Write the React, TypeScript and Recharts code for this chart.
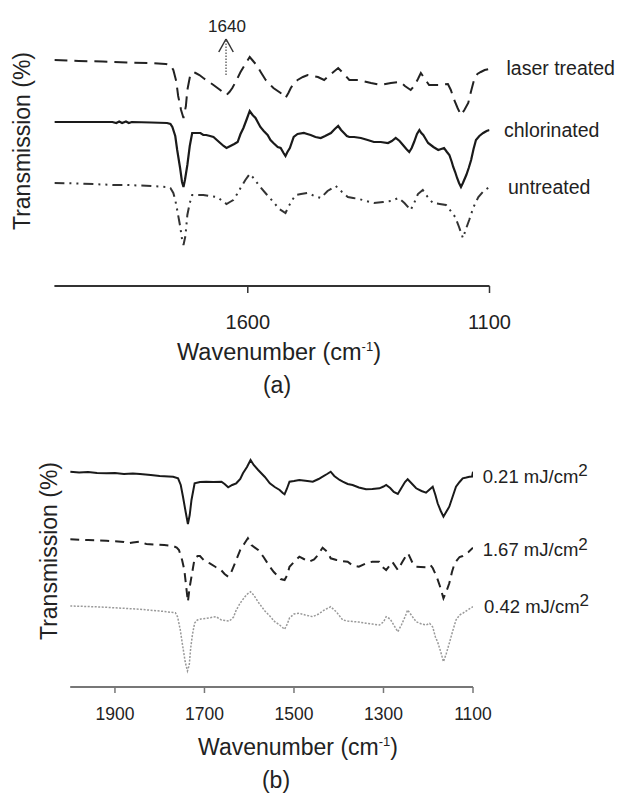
import React from 'react';
import { LineChart, Line, XAxis, YAxis, ReferenceLine } from 'recharts';

const FONT = '"Liberation Sans", Arial, Helvetica, sans-serif';

// ---------- Panel (a): [wavenumber cm-1, relative transmission] ----------
const laserTreated: [number, number][] = [
  [2000, 226], [1950, 225], [1900, 224.5], [1850, 223.5], [1800, 223], [1770, 222], [1760, 221],
  [1754, 216], [1748, 205], [1744, 190], [1738, 176], [1733, 168], [1728, 180], [1725, 196],
  [1719, 211], [1712, 214], [1708, 213], [1700, 211], [1692, 208], [1680, 204], [1671, 201],
  [1657, 196], [1644, 191], [1638, 194], [1632, 198], [1622, 207], [1615, 214], [1605, 222],
  [1596, 229], [1589, 225], [1582, 221], [1572, 213], [1563, 206], [1547, 198], [1532, 193],
  [1522, 188], [1516, 193], [1511, 198], [1504, 203], [1497, 206], [1486, 209], [1476, 211],
  [1465, 210], [1455, 209], [1442, 206], [1428, 212], [1413, 218], [1407, 215], [1401, 212],
  [1390, 206], [1370, 206], [1345, 203], [1325, 201], [1304, 203], [1284, 204], [1275, 200],
  [1263, 196], [1256, 200], [1248, 207], [1242, 213], [1235, 208], [1225, 201], [1206, 201],
  [1186, 202], [1180, 196], [1173, 186], [1166, 178], [1159, 171], [1152, 176], [1144, 183],
  [1138, 195], [1132, 206], [1125, 212], [1118, 214], [1110, 216], [1100, 217],
];

const chlorinated: [number, number][] = [
  [2000, 164], [1950, 164], [1900, 164], [1880, 164], [1872, 163], [1866, 164.5], [1860, 163],
  [1852, 164.5], [1846, 163], [1840, 164], [1800, 163.5], [1767, 163], [1760, 162], [1756, 159],
  [1750, 150], [1746, 136], [1740, 118], [1736, 104], [1733, 99], [1730, 106], [1725, 121],
  [1720, 140], [1715, 153], [1708, 153], [1698, 153], [1692, 151], [1686, 151], [1678, 150],
  [1671, 149], [1664, 146], [1657, 143], [1650, 140], [1644, 138], [1636, 140], [1628, 142],
  [1621, 144], [1615, 152], [1609, 158], [1602, 167], [1596, 175], [1590, 171], [1584, 168],
  [1574, 159], [1567, 155], [1559, 151], [1553, 146], [1547, 143], [1538, 139], [1532, 138],
  [1526, 133], [1522, 130], [1518, 134], [1513, 138], [1505, 149], [1497, 152], [1484, 153],
  [1477, 152], [1470, 151], [1460, 149], [1449, 148], [1440, 150], [1428, 153], [1420, 157],
  [1413, 160], [1407, 156], [1401, 153], [1395, 150], [1390, 149], [1380, 149], [1366, 148],
  [1352, 146], [1339, 144], [1325, 144], [1310, 143], [1302, 145], [1294, 148], [1286, 145],
  [1279, 141], [1272, 137], [1266, 134], [1261, 138], [1256, 144], [1250, 152], [1245, 156],
  [1241, 153], [1237, 151], [1232, 147], [1227, 143], [1216, 139], [1206, 136], [1200, 137],
  [1194, 138], [1188, 134], [1183, 131], [1178, 124], [1175, 119], [1171, 114], [1167, 108],
  [1163, 103], [1159, 99], [1155, 103], [1148, 111], [1143, 118], [1138, 126], [1133, 137],
  [1128, 146], [1121, 150], [1113, 153], [1106, 155], [1100, 156],
];

const untreated: [number, number][] = [
  [2000, 103], [1950, 102.5], [1900, 101.5], [1878, 101], [1850, 101], [1800, 100], [1767, 99],
  [1760, 98], [1754, 93], [1750, 86], [1746, 76], [1740, 60], [1736, 47], [1733, 41], [1729, 50],
  [1725, 71], [1720, 83], [1715, 91], [1705, 91], [1692, 91], [1680, 90], [1663, 89], [1655, 86],
  [1644, 82], [1637, 84], [1630, 86], [1622, 92], [1615, 98], [1605, 106], [1596, 112],
  [1590, 109], [1582, 104], [1574, 99], [1560, 91], [1547, 84], [1535, 77], [1522, 73],
  [1515, 80], [1508, 86], [1501, 91], [1490, 92], [1476, 93], [1462, 90], [1449, 88], [1435, 95],
  [1418, 100], [1405, 94], [1393, 89], [1382, 88], [1370, 87], [1355, 85], [1339, 83], [1320, 84],
  [1304, 85], [1288, 88], [1276, 83], [1263, 76], [1255, 84], [1248, 92], [1238, 96], [1228, 89],
  [1217, 83], [1203, 82], [1190, 81], [1180, 75], [1171, 69], [1163, 59], [1155, 48], [1148, 58],
  [1142, 66], [1133, 79], [1123, 89], [1112, 95], [1100, 99],
];

// ---------- Panel (b): [wavenumber cm-1, relative transmission] ----------
const fluence021: [number, number][] = [
  [2000, 215.3], [1980, 214.5], [1960, 215], [1940, 214], [1919, 213.7], [1900, 214], [1880, 213],
  [1860, 213.5], [1844, 213], [1820, 212], [1800, 211], [1780, 210.5], [1770, 210.3], [1759, 208.7],
  [1753, 202], [1748, 190.3], [1742, 175], [1737, 163], [1733, 172], [1729, 187], [1722, 203.7],
  [1710, 205], [1696, 205.3], [1680, 205], [1662, 205.3], [1655, 203], [1647, 199.7], [1638, 202],
  [1629, 203.7], [1620, 208], [1614, 213.7], [1605, 220], [1597, 227], [1590, 222], [1580, 217],
  [1565, 210], [1554, 203.7], [1543, 200], [1532, 197], [1525, 194], [1521, 192.7], [1516, 198],
  [1510, 205.3], [1500, 206], [1488, 207], [1470, 206], [1458, 205.3], [1445, 208], [1436, 210.3],
  [1426, 213], [1418, 215.3], [1410, 211], [1398, 207], [1391, 205.3], [1380, 203], [1369, 202],
  [1355, 199.5], [1339, 197.7], [1325, 198], [1309, 198.7], [1300, 200.5], [1294, 202],
  [1285, 199], [1277, 195], [1268, 193], [1260, 199], [1252, 205], [1246, 207.7], [1238, 204],
  [1227, 198.7], [1215, 196], [1205, 194.3], [1197, 197.5], [1190, 200.3], [1184, 192],
  [1179, 183.7], [1172, 176], [1166, 170.3], [1160, 175], [1153, 180.3], [1145, 191],
  [1138, 200.3], [1130, 205], [1123, 208.7], [1115, 209.5], [1108, 210.3], [1102, 210.5], [1100, 215.3],
];

const fluence167: [number, number][] = [
  [2000, 147.7], [1960, 147], [1919, 146.3], [1880, 145], [1870, 143.7], [1860, 144.5], [1844, 145.3],
  [1830, 143], [1810, 142.5], [1790, 142], [1770, 141], [1762, 139.5], [1757, 137], [1750, 127],
  [1745, 117], [1741, 101], [1737, 85.3], [1733, 100], [1729, 110.3], [1722, 128.7], [1715, 131],
  [1710, 131], [1700, 126], [1688, 123.7], [1675, 120], [1663, 117], [1655, 113], [1647, 110.3],
  [1640, 115], [1629, 127], [1620, 137], [1610, 144], [1603, 148.7], [1595, 142], [1580, 137],
  [1568, 130], [1554, 120.3], [1545, 115], [1530, 108], [1521, 107], [1515, 112], [1510, 120.3],
  [1500, 125], [1488, 130.3], [1478, 128], [1466, 125.3], [1455, 127.5], [1450, 130], [1436, 139.3],
  [1425, 135], [1418, 128.7], [1405, 127], [1394, 126], [1380, 125.3], [1369, 121.5], [1355, 120.3],
  [1339, 123.7], [1325, 125.3], [1310, 125.3], [1302, 120], [1294, 117], [1280, 125], [1268, 117],
  [1258, 125], [1250, 131], [1245, 133.7], [1235, 124], [1227, 120.3], [1217, 120], [1205, 119.7],
  [1195, 122], [1190, 119], [1181, 110], [1174, 101], [1166, 88.7], [1160, 95], [1153, 103.7],
  [1147, 115], [1141, 123.7], [1130, 130], [1123, 131], [1110, 135], [1100, 139.3],
];

const fluence042: [number, number][] = [
  [2000, 81], [1960, 80.5], [1919, 79.7], [1880, 78.7], [1844, 77.7], [1800, 76], [1770, 74.5],
  [1765, 74.3], [1760, 70], [1754, 57], [1749, 42], [1743, 25], [1738, 16], [1734, 22], [1731, 38],
  [1727, 52], [1722, 64], [1716, 67], [1708, 68], [1696, 68.7], [1685, 69.5], [1674, 70.3],
  [1662, 67], [1654, 66.5], [1644, 66], [1635, 70], [1629, 77], [1620, 84], [1610, 90], [1604, 93],
  [1597, 95.3], [1590, 92], [1580, 85], [1565, 76], [1554, 71], [1543, 65.3], [1532, 62],
  [1521, 57.7], [1515, 63], [1510, 69], [1500, 73], [1488, 73.7], [1475, 72], [1458, 70.3],
  [1445, 73], [1432, 77], [1418, 80.3], [1405, 75], [1391, 67], [1380, 66], [1369, 65.5],
  [1355, 65], [1339, 63.7], [1325, 63], [1309, 62], [1300, 65], [1294, 70.3], [1285, 68],
  [1277, 62], [1268, 55.3], [1260, 62], [1252, 70], [1246, 77], [1238, 72], [1227, 65.3],
  [1215, 63], [1205, 62], [1197, 63.7], [1190, 60], [1184, 50], [1179, 45], [1172, 35],
  [1166, 25.3], [1160, 33], [1153, 43.7], [1146, 55], [1138, 67], [1130, 72], [1123, 73.7],
  [1112, 77], [1100, 80.3],
];

const ticksA = [1600, 1100];
const ticksB = [1900, 1700, 1500, 1300, 1100];
const domainX: [number, number] = [1100, 2000];
const domainY: [number, number] = [0, 250];

const annotationWn = 1645;

const toPts = (arr: [number, number][]) => arr.map(([w, t]) => ({ w, t }));

const INK = '#222';

export default function App() {
  return (
    <div style={{ position: 'absolute', left: 0, top: 0, width: 618, height: 794, background: '#fff' }}>
      <div style={{ position: 'absolute', left: 0, top: 0 }}>
        <LineChart width={618} height={400} margin={{ top: 36, right: 128.5, left: 54.4, bottom: 0 }}>
          <XAxis
            type="number"
            dataKey="w"
            domain={domainX}
            reversed
            ticks={ticksA}
            interval={0}
            allowDataOverflow
            height={114}
            tickSize={7}
            tickMargin={22}
            axisLine={{ stroke: '#333', strokeWidth: 2 }}
            tickLine={{ stroke: '#333', strokeWidth: 1.5 }}
            tick={{ fontSize: 20, fill: INK, fontFamily: FONT }}
          />
          <YAxis hide type="number" domain={domainY} allowDataOverflow />
          <Line data={toPts(laserTreated)} dataKey="t" type="linear" stroke="#222" strokeWidth={2}
            strokeDasharray="13 7" dot={false} activeDot={false} isAnimationActive={false} />
          <Line data={toPts(chlorinated)} dataKey="t" type="linear" stroke="#1a1a1a" strokeWidth={2.2}
            dot={false} activeDot={false} isAnimationActive={false} />
          <Line data={toPts(untreated)} dataKey="t" type="linear" stroke="#333" strokeWidth={2}
            strokeDasharray="10 5 2 5 2 5" dot={false} activeDot={false} isAnimationActive={false} />
          <ReferenceLine segment={[{ x: annotationWn, y: 211 }, { x: annotationWn, y: 245 }]}
            stroke="#444" strokeWidth={1.2} strokeDasharray="1.5 1.5" ifOverflow="visible" />
          <ReferenceLine segment={[{ x: annotationWn, y: 247 }, { x: annotationWn + 15, y: 234 }]}
            stroke="#333" strokeWidth={1.5} ifOverflow="visible" />
          <ReferenceLine segment={[{ x: annotationWn, y: 247 }, { x: annotationWn - 15, y: 234 }]}
            stroke="#333" strokeWidth={1.5} ifOverflow="visible" />
        </LineChart>
      </div>
      <div style={{ position: 'absolute', left: 0, top: 400 }}>
        <LineChart width={618} height={394} margin={{ top: 37, right: 145, left: 70.2, bottom: 0 }}>
          <XAxis
            type="number"
            dataKey="w"
            domain={domainX}
            reversed
            ticks={ticksB}
            interval={0}
            allowDataOverflow
            height={107}
            tickSize={6}
            tickMargin={15}
            axisLine={{ stroke: '#777', strokeWidth: 2 }}
            tickLine={{ stroke: '#777', strokeWidth: 1.5 }}
            tick={{ fontSize: 17.5, fill: INK, fontFamily: FONT }}
          />
          <YAxis hide type="number" domain={domainY} allowDataOverflow />
          <Line data={toPts(fluence021)} dataKey="t" type="linear" stroke="#1a1a1a" strokeWidth={2}
            dot={false} activeDot={false} isAnimationActive={false} />
          <Line data={toPts(fluence167)} dataKey="t" type="linear" stroke="#222" strokeWidth={2}
            strokeDasharray="9 6" dot={false} activeDot={false} isAnimationActive={false} />
          <Line data={toPts(fluence042)} dataKey="t" type="linear" stroke="#999" strokeWidth={1.5}
            strokeDasharray="2 1.5" dot={false} activeDot={false} isAnimationActive={false} />
        </LineChart>
      </div>
      <svg width={618} height={794} style={{ position: 'absolute', left: 0, top: 0, pointerEvents: 'none' }}
        fontFamily={FONT} fill={INK}>
        {/* panel (a) */}
        <text transform="translate(30,141) rotate(-90)" textAnchor="middle" fontSize={23}>Transmission (%)</text>
        <text x={227} y={31.5} textAnchor="middle" fontSize={17}>1640</text>
        <text x={506.5} y={75} fontSize={19.5}>laser treated</text>
        <text x={504} y={137} fontSize={19.5}>chlorinated</text>
        <text x={508} y={194} fontSize={19.5}>untreated</text>
        <text x={279} y={360} textAnchor="middle" fontSize={23.5}>
          Wavenumber (cm<tspan fontSize={13} dy={-9}>-1</tspan><tspan dy={9}>)</tspan>
        </text>
        <text x={277} y={393} textAnchor="middle" fontSize={23}>(a)</text>
        {/* panel (b) */}
        <text transform="translate(57,551) rotate(-90)" textAnchor="middle" fontSize={23}>Transmission (%)</text>
        <text x={482.7} y={482.7} fontSize={18.5}>0.21 mJ/cm<tspan fontSize={17} dy={-6.5}>2</tspan></text>
        <text x={482.7} y={556} fontSize={18.5}>1.67 mJ/cm<tspan fontSize={17} dy={-6.5}>2</tspan></text>
        <text x={484} y={612.7} fontSize={18.5}>0.42 mJ/cm<tspan fontSize={17} dy={-6.5}>2</tspan></text>
        <text x={298} y={755} textAnchor="middle" fontSize={23}>
          Wavenumber (cm<tspan fontSize={13} dy={-9}>-1</tspan><tspan dy={9}>)</tspan>
        </text>
        <text x={276} y={788} textAnchor="middle" fontSize={23}>(b)</text>
      </svg>
    </div>
  );
}
